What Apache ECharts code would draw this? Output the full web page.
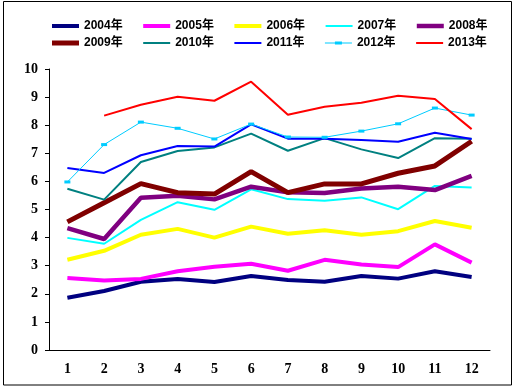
<!DOCTYPE html>
<html><head><meta charset="utf-8">
<script src="https://cdn.jsdelivr.net/npm/echarts@6/dist/echarts.min.js"></script>
<style>html,body{margin:0;padding:0;background:#fff}#c{width:517px;height:389px}</style>
</head><body><div id="c"></div>
<script>
const months = ['1','2','3','4','5','6','7','8','9','10','11','12'];
const yTicks = [0,1,2,3,4,5,6,7,8,9,10];
const names = ['2004年','2005年','2006年','2007年','2008年','2009年','2010年','2011年','2012年','2013年'];
const y2004 = [1.86,2.10,2.43,2.53,2.42,2.63,2.49,2.43,2.63,2.54,2.80,2.60];
const y2005 = [2.56,2.47,2.53,2.80,2.96,3.07,2.82,3.21,3.04,2.95,3.76,3.11];
const y2006 = [3.21,3.53,4.10,4.31,4.00,4.39,4.14,4.26,4.10,4.23,4.59,4.35];
const y2007 = [3.99,3.78,4.63,5.26,4.99,5.72,5.37,5.31,5.43,5.01,5.84,5.78];
const y2008 = [4.34,3.95,5.42,5.49,5.36,5.81,5.61,5.59,5.75,5.81,5.69,6.20];
const y2009 = [4.56,5.24,5.92,5.60,5.55,6.35,5.60,5.91,5.91,6.29,6.55,7.43];
const y2010 = [5.74,5.35,6.69,7.08,7.21,7.70,7.09,7.54,7.14,6.83,7.54,7.52];
const y2011 = [6.48,6.30,6.93,7.26,7.24,8.03,7.52,7.52,7.47,7.41,7.73,7.51];
const y2012 = [5.98,7.31,8.11,7.89,7.51,8.04,7.58,7.57,7.79,8.05,8.61,8.36];
const y2013 = [null,8.34,8.73,9.01,8.87,9.55,8.37,8.66,8.80,9.05,8.93,7.86];
const allData = [y2004,y2005,y2006,y2007,y2008,y2009,y2010,y2011,y2012,y2013];
const colors = ['#000080','#FF00FF','#FFFF00','#00FFFF','#800080','#800000','#008080','#0000FF','#00CCFF','#FF0000'];
const widths = [4,4,4,2,4.5,5,2,2,1,2];

function legendIcon(i){
  if (i===8) return 'path://M0,1.5H27V2.5H0Z M10,0.5H17V3.5H10Z';
  const w = widths[i];
  return 'path://M0,0H27V' + w + 'H0Z';
}

const series = names.map((n,i)=>({
  name:n, type:'line', data:allData[i],
  symbol: i===8 ? 'rect' : 'none',
  symbolSize: i===8 ? [6,3] : 0,
  symbolKeepAspect:true,
  showSymbol: i===8,
  itemStyle:{color:colors[i]},
  lineStyle:{color:colors[i], width:widths[i]},
  connectNulls:false,
  animation:false
}));

const legendCommon = {
  orient:'horizontal', left:47, itemWidth:27, itemHeight:14, itemGap:20.5,
  textStyle:{fontFamily:'Liberation Sans, Noto Sans CJK SC', fontWeight:'bold', fontSize:12, color:'#000'}
};

const chart = echarts.init(document.getElementById('c'));
chart.setOption({
  backgroundColor:'#fff',
  animation:false,
  graphic:[{type:'rect', shape:{x:3.5,y:1.5,width:508,height:383.5}, style:{fill:'none',stroke:'#000',lineWidth:1}}],
  legend:[
    Object.assign({top:15, data:names.slice(0,5).map((n,k)=>({name:n, icon:legendIcon(k)}))}, legendCommon),
    Object.assign({top:32, data:names.slice(5).map((n,k)=>({name:n, icon:legendIcon(k+5)}))}, legendCommon)
  ],
  grid:{left:49, right:27, top:69, bottom:39},
  xAxis:{type:'category', data:months, boundaryGap:true,
    axisLine:{lineStyle:{color:'#000',width:1}},
    axisTick:{inside:true, length:4, lineStyle:{color:'#000'}},
    axisLabel:{fontFamily:'Liberation Serif', fontWeight:'bold', fontSize:14, color:'#000', margin:12}
  },
  yAxis:{type:'value', min:0, max:10, interval:1,
    axisLine:{show:true, lineStyle:{color:'#000',width:1}},
    axisTick:{show:true, length:4, lineStyle:{color:'#000'}},
    splitLine:{show:false},
    axisLabel:{fontFamily:'Liberation Serif', fontWeight:'bold', fontSize:14, color:'#000', margin:11}
  },
  series: series
});
</script></body></html>
